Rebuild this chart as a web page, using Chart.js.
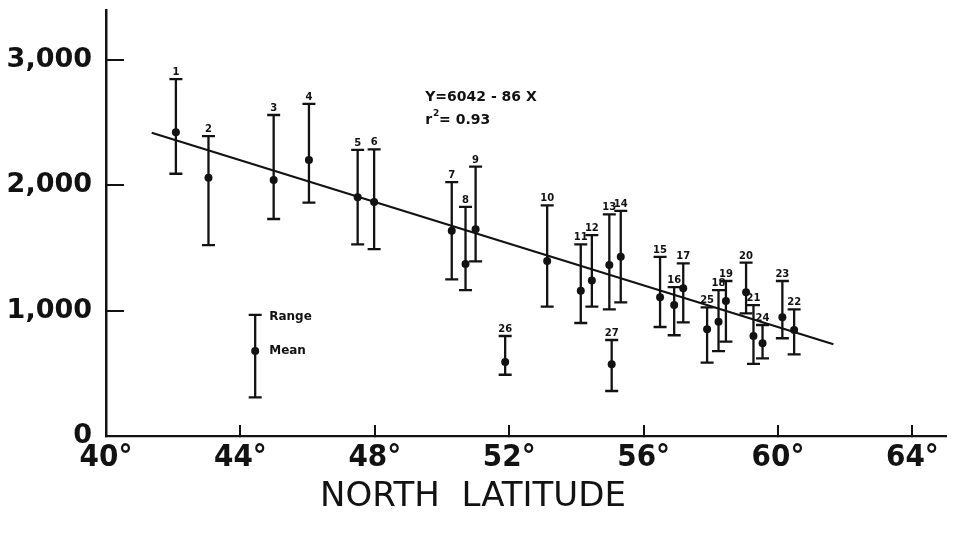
<!DOCTYPE html>
<html>
<head>
<meta charset="utf-8">
<script src="https://cdn.jsdelivr.net/npm/chart.js@4/dist/chart.umd.min.js"></script>
<style>
  html, body { margin: 0; padding: 0; background: #fff; }
  #chart { display: block; }
</style>
</head>
<body>
<canvas id="chart" width="956" height="536"></canvas>
<script>
// site numbers, latitude, mean and range
const siteNames = ['1','2','3','4','5','6','7','8','9','10','11','12','13','14','15','16','17','18','19','20','21','22','23','24','25','26','27'];
const siteLat   = [42.08, 43.05, 44.99, 46.04, 47.49, 47.98, 50.29, 50.70, 51.00, 53.13, 54.13, 54.46, 54.98, 55.32, 56.49, 56.91, 57.18, 58.23, 58.45, 59.05, 59.27, 60.48, 60.13, 59.54, 57.89, 51.88, 55.05];
const siteMean  = [2424, 2062, 2043, 2203, 1905, 1868, 1639, 1373, 1650, 1397, 1160, 1241, 1365, 1431, 1107, 1045, 1179, 912, 1077, 1147, 798, 846, 947, 740, 851, 591, 572];
const siteLow   = [2093, 1524, 1732, 1862, 1530, 1492, 1250, 1165, 1394, 1032, 902, 1032, 1011, 1067, 870, 804, 907, 678, 753, 978, 575, 652, 780, 620, 585, 489, 359];
const siteHigh  = [2849, 2394, 2562, 2650, 2283, 2288, 2027, 1828, 2150, 1841, 1530, 1604, 1769, 1796, 1429, 1189, 1378, 1165, 1237, 1383, 1045, 1011, 1237, 886, 1027, 798, 766];

// fitted line end points
const fitLat = [41.36, 61.65];
const fitVal = [2420, 732];

// key sample (Range / Mean)
const keyLat = 44.44;
const keyMean = 678;
const keyLow = 309;
const keyHigh = 966;

const xTickValues = [40, 44, 48, 52, 56, 60, 64];
const xTickLabels = ['40°', '44°', '48°', '52°', '56°', '60°', '64°'];
const yTickValues = [0, 1000, 2000, 3000];
const yTickLabels = ['0', '1,000', '2,000', '3,000'];

const ink = '#121212';

function drawBar(ctx, px, yTop, yBot) {
  ctx.beginPath();
  ctx.moveTo(px, yTop);
  ctx.lineTo(px, yBot);
  ctx.moveTo(px - 6.5, yTop);
  ctx.lineTo(px + 6.5, yTop);
  ctx.moveTo(px - 6.5, yBot);
  ctx.lineTo(px + 6.5, yBot);
  ctx.stroke();
}

const rangeBars = {
  id: 'rangeBars',
  beforeDatasetsDraw(chart) {
    const { ctx, scales: { x, y } } = chart;
    ctx.save();
    ctx.strokeStyle = ink;
    ctx.lineWidth = 2.3;
    siteLat.forEach((lat, i) => {
      drawBar(ctx, x.getPixelForValue(lat), y.getPixelForValue(siteHigh[i]), y.getPixelForValue(siteLow[i]));
    });
    // key
    drawBar(ctx, x.getPixelForValue(keyLat), y.getPixelForValue(keyHigh), y.getPixelForValue(keyLow));
    ctx.restore();
  },
  afterDatasetsDraw(chart) {
    const { ctx, scales: { x, y } } = chart;
    ctx.save();
    ctx.fillStyle = ink;
    ctx.font = 'bold 10px "DejaVu Sans"';
    ctx.textAlign = 'center';
    ctx.textBaseline = 'alphabetic';
    siteNames.forEach((name, i) => {
      ctx.fillText(name, x.getPixelForValue(siteLat[i]), y.getPixelForValue(siteHigh[i]) - 4);
    });

    // key dot and words
    const kx = x.getPixelForValue(keyLat);
    ctx.beginPath();
    ctx.arc(kx, y.getPixelForValue(keyMean), 4, 0, Math.PI * 2);
    ctx.fill();
    ctx.font = 'bold 12px "DejaVu Sans"';
    ctx.textAlign = 'left';
    ctx.textBaseline = 'middle';
    ctx.fillText('Range', kx + 14, y.getPixelForValue(keyHigh) + 2);
    ctx.fillText('Mean', kx + 14, y.getPixelForValue(keyMean));

    // regression equation
    const ex = x.getPixelForValue(49.5);
    ctx.font = 'bold 14px "DejaVu Sans"';
    ctx.fillText('Y=6042 - 86 X', ex, y.getPixelForValue(2705));
    const ry = y.getPixelForValue(2522);
    ctx.fillText('r', ex, ry);
    const rw = ctx.measureText('r').width;
    ctx.font = 'bold 9px "DejaVu Sans"';
    ctx.fillText('2', ex + rw + 1, ry - 6);
    ctx.font = 'bold 14px "DejaVu Sans"';
    ctx.fillText('= 0.93', ex + rw + 7, ry);
    ctx.restore();
  }
};

new Chart(document.getElementById('chart'), {
  type: 'scatter',
  data: {
    datasets: [
      {
        label: 'Mean',
        data: siteLat.map((lat, i) => ({ x: lat, y: siteMean[i] })),
        backgroundColor: ink,
        borderWidth: 0,
        pointRadius: 4
      },
      {
        type: 'line',
        label: 'Fit',
        data: fitLat.map((lat, i) => ({ x: lat, y: fitVal[i] })),
        borderColor: ink,
        borderWidth: 2.2,
        pointRadius: 0,
        fill: false
      }
    ]
  },
  options: {
    responsive: false,
    animation: false,
    devicePixelRatio: 1,
    layout: { padding: { top: 10, right: 10, bottom: 18, left: 0 } },
    plugins: {
      legend: { display: false },
      tooltip: { enabled: false },
      title: {
        display: true,
        position: 'bottom',
        text: 'NORTH  LATITUDE',
        color: ink,
        font: { family: '"DejaVu Sans"', size: 34, weight: 'normal' },
        padding: { top: 0, bottom: 0, left: 16 }
      }
    },
    scales: {
      x: {
        type: 'linear',
        min: 40,
        max: 65,
        afterBuildTicks: s => { s.ticks = xTickValues.map(v => ({ value: v })); },
        afterFit: s => { s.height = 41.2; },
        border: { display: true, color: ink, width: 2.2 },
        grid: { drawOnChartArea: false, drawTicks: true, tickLength: -11, color: ink, lineWidth: 2 },
        ticks: {
          padding: 14,
          color: ink,
          maxRotation: 0,
          autoSkip: false,
          font: { family: '"DejaVu Sans Condensed", "DejaVu Sans"', size: 31, weight: 'bold' },
          callback: v => xTickLabels[xTickValues.indexOf(v)]
        }
      },
      y: {
        type: 'linear',
        min: 0,
        max: 3400,
        afterBuildTicks: s => { s.ticks = yTickValues.map(v => ({ value: v })); },
        afterFit: s => { s.width = 106; s.paddingTop = 0; s.paddingBottom = 0; },
        border: { display: true, color: ink, width: 2.5 },
        grid: { drawOnChartArea: false, drawTicks: true, tickLength: -18, color: ink, lineWidth: 2 },
        ticks: {
          padding: 32,
          color: ink,
          autoSkip: false,
          font: { family: '"DejaVu Sans"', size: 27, weight: 'bold' },
          callback: v => yTickLabels[yTickValues.indexOf(v)]
        }
      }
    }
  },
  plugins: [rangeBars]
});
</script>
</body>
</html>
